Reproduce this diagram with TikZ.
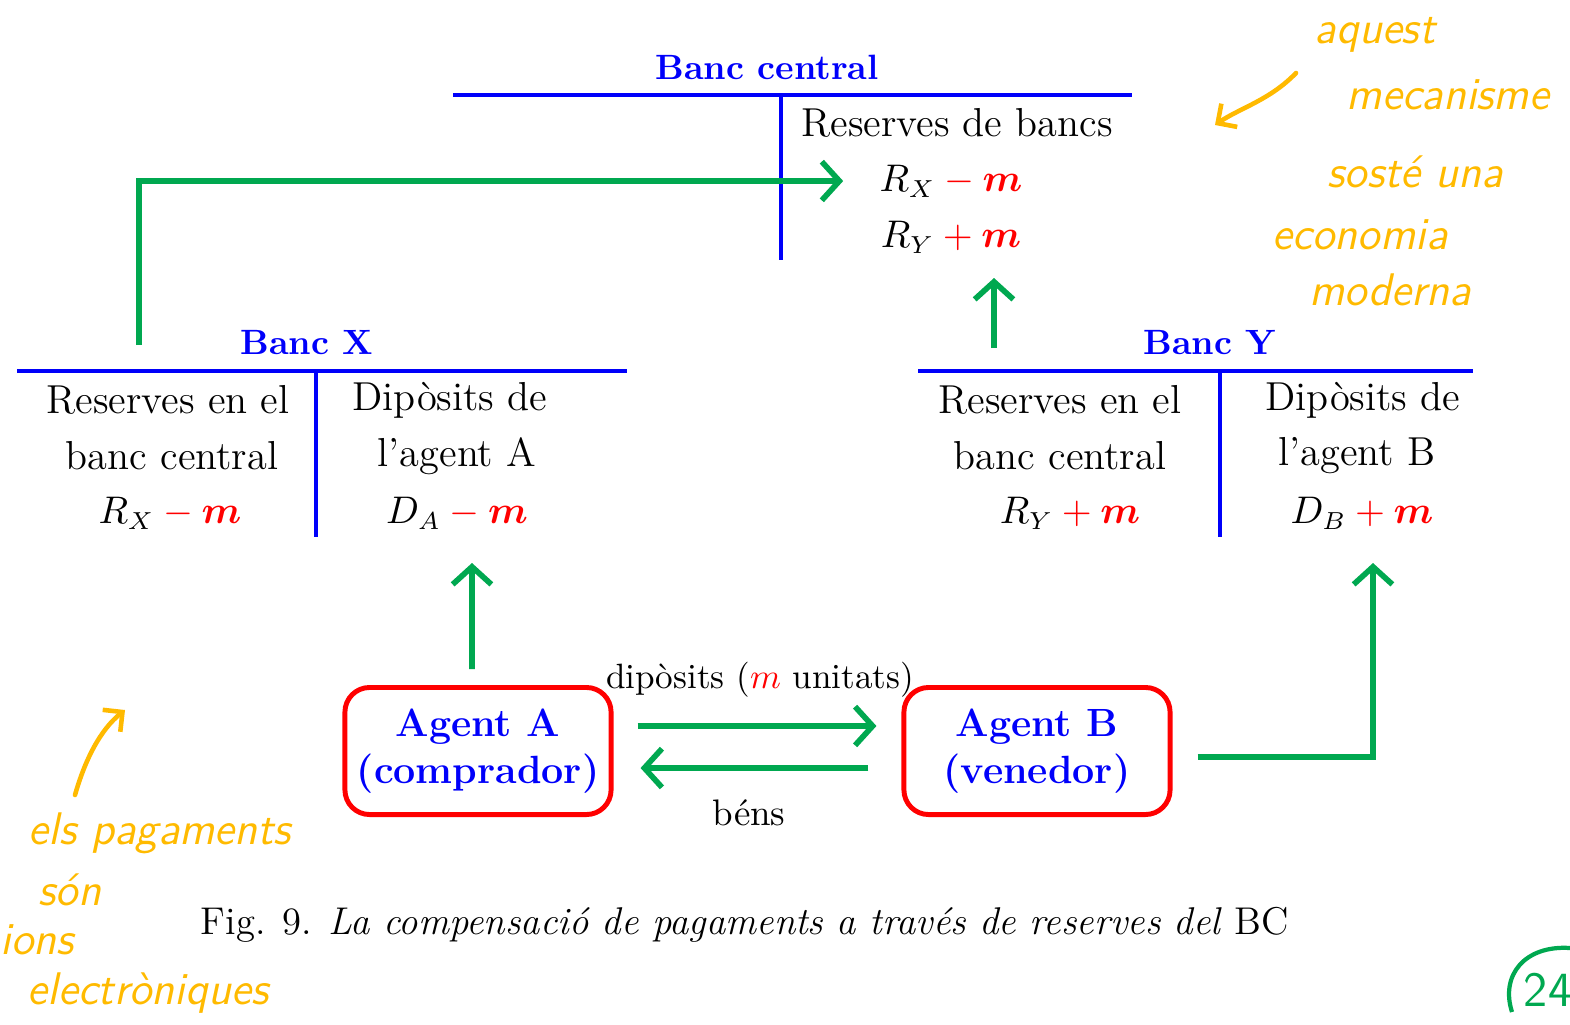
\documentclass[tikz,border=0pt]{standalone}
\usepackage{amsmath}
\usepackage{bm}
\usetikzlibrary{arrows.meta}

\definecolor{bcblue}{RGB}{0,0,250}
\definecolor{flowgreen}{RGB}{0,168,80}
\definecolor{notecol}{RGB}{255,186,0}

% red change of the amounts
\newcommand{\mq}{\textcolor{red}{\bm{m}}}
\newcommand{\mneg}{\mathbin{\textcolor{red}{-}}}
\newcommand{\mpos}{\mathbin{\textcolor{red}{+}}}

\tikzset{
    title/.style={text=bcblue, font=\fontsize{10}{12}\selectfont\bfseries},
    entry/.style={font=\fontsize{11.5}{13}\selectfont},
    amount/.style={font=\fontsize{10.5}{12}\selectfont},
    tline/.style={bcblue, line width=1.1pt},
    flow/.style={flowgreen, line width=1.6pt, -{Straight Barb[length=5pt, width=11pt]}},
    agentbox/.style={draw=red, line width=1.4pt, rounded corners=7pt, minimum width=2.66cm,
            minimum height=1.27cm, text=bcblue, align=center, inner sep=0pt,
            font=\fontsize{11.2}{13.5}\selectfont\bfseries},
    note/.style={text=notecol, font=\fontsize{13}{15}\selectfont\sffamily\itshape, inner sep=0pt},
    notearrow/.style={notecol, line width=1.3pt, line cap=round, -{Straight Barb[length=4pt, width=8pt]}}
}

\begin{document}
\begin{tikzpicture}[x=0.01cm, y=-0.01cm]
    \useasboundingbox (0,0) rectangle (1570,1024);

    % Central bank account
    \node[title] (bctitle) at (767,67) {Banc central};
    \draw[tline] (453,95) -- (1132,95);
    \draw[tline] (781,95) -- (781,260);
    \node[entry] (bcres) at (957,123) {Reserves de bancs};
    \node[amount] (bcrx) at (951,181) {$R_X \mneg \mq$};
    \node[amount] (bcry) at (951,237) {$R_Y \mpos \mq$};

    % Bank X account
    \node[title] (bxtitle) at (307,343) {Banc X};
    \draw[tline] (17,371) -- (627,371);
    \draw[tline] (316,371) -- (316,537);
    \node[entry] (bxr1) at (168,400) {Reserves en el};
    \node[entry] (bxr2) at (172,456) {banc central};
    \node[amount] (bxr3) at (170,513) {$R_X \mneg \mq$};
    \node[entry] (bxd1) at (450,400) {Dipòsits de};
    \node[entry] (bxd2) at (457,456) {l'agent A};
    \node[amount] (bxd3) at (457,513) {$D_A \mneg \mq$};

    % Bank Y account
    \node[title] (bytitle) at (1210,343) {Banc Y};
    \draw[tline] (918,371) -- (1473,371);
    \draw[tline] (1220,371) -- (1220,537);
    \node[entry] (byr1) at (1060,400) {Reserves en el};
    \node[entry] (byr2) at (1060,456) {banc central};
    \node[amount] (byr3) at (1070,513) {$R_Y \mpos \mq$};
    \node[entry] (byd1) at (1363,400) {Dipòsits de};
    \node[entry] (byd2) at (1357,456) {l'agent B};
    \node[amount] (byd3) at (1362,513) {$D_B \mpos \mq$};

    % The two agents
    \node[agentbox] (agA) at (478,751) {Agent A\\(comprador)};
    \node[agentbox] (agB) at (1037,751) {Agent B\\(venedor)};

    % Free ends of the green flows
    \coordinate (xout) at (139,345);
    \coordinate (yout) at (994,348);
    \coordinate (cbin) at (994,278);
    \coordinate (dain) at (472,563);
    \coordinate (dbin) at (1373,563);

    % Green flows
    \draw[flow] (xout) |- ([xshift=-0.24cm]bcrx.west);
    \draw[flow] (yout) -- (cbin);
    \draw[flow] ([xshift=-0.06cm,yshift=0.16cm]agA.north) -- (dain);
    \draw[flow] ([xshift=0.25cm,yshift=-0.06cm]agB.east) -| (dbin);
    \draw[flow] ([xshift=0.24cm,yshift=0.25cm]agA.east) -- ([xshift=-0.25cm,yshift=0.25cm]agB.west);
    \draw[flow] ([xshift=-0.33cm,yshift=-0.17cm]agB.west) -- ([xshift=0.27cm,yshift=-0.17cm]agA.east);
    \node[font=\fontsize{10}{12}\selectfont] (dip) at (760,680) {dipòsits (\textcolor{red}{$m$} unitats)};
    \node[font=\fontsize{10.5}{12}\selectfont] (bens) at (749,813) {béns};

    % Caption
    \node[font=\fontsize{11}{13}\selectfont] (caption) at (745,925)
        {Fig. 9. \textit{La compensació de pagaments a través de reserves del} BC};

    % Handwritten notes
    \node[note] (n1) at (1375,35) {aquest};
    \node[note] (n2) at (1448,95) {mecanisme};
    \node[note] (n3) at (1415,172) {sosté una};
    \node[note] (n4) at (1360,235) {economia};
    \node[note] (n5) at (1390,290) {moderna};
    \draw[notearrow] (1296,73) .. controls (1270,100) and (1240,108) .. (1215,125);

    \node[note] (p1) at (160,833) {els pagaments};
    \node[note] (p2) at (70,890) {són};
    \node[note, anchor=west] (p3) at (0,940) {ions};
    \node[note] (p4) at (148,993) {electròniques};
    \draw[notearrow] (75,795) .. controls (85,760) and (100,730) .. (125,710);

    % Page number
    \draw[flowgreen, line width=1.2pt] (1512,1012) .. controls (1500,975) and (1525,945) .. (1570,948);
    \node[text=flowgreen, font=\fontsize{14}{16}\selectfont\sffamily, inner sep=0pt] (pg) at (1548,990) {24};
\end{tikzpicture}
\end{document}
